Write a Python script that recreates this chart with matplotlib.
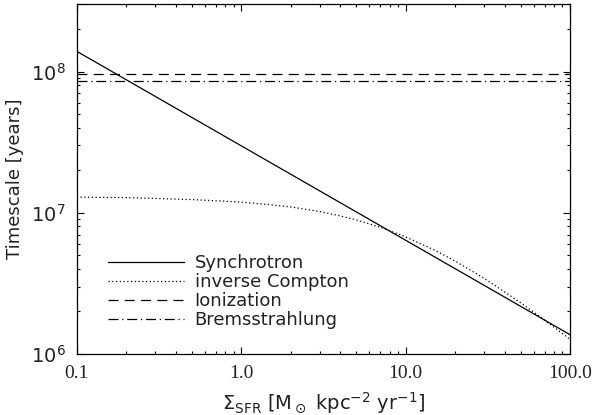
import numpy as np
import matplotlib.pyplot as plt

# values
sfr_syn = [0.1, 100.0]
t_syn = [1.39e8, 1.37e6]

sfr_ic = [0.1, 0.2, 0.5, 1.0, 1.5, 2.0, 3.0, 4.0, 5.0, 7.0, 10.0, 15.0, 20.0, 30.0, 50.0, 70.0, 100.0]
t_ic = [1.29e7, 1.28e7, 1.24e7, 1.19e7, 1.14e7, 1.10e7, 1.02e7, 9.5e6, 8.9e6, 7.9e6,
        6.75e6, 5.44e6, 4.55e6, 3.44e6, 2.31e6, 1.74e6, 1.27e6]

sfr_flat = [0.1, 100.0]
t_ion = [9.6e7, 9.6e7]
t_brems = [8.6e7, 8.6e7]

labels = ['Synchrotron', 'inverse Compton', 'Ionization', 'Bremsstrahlung']
xticks = [0.1, 1.0, 10.0, 100.0]
xticklabels = ['0.1', '1.0', '10.0', '100.0']

txt = '#222222'
fig = plt.figure(figsize=(6, 4.15), dpi=100)
ax = fig.add_axes([0.128, 0.147, 0.822, 0.843])

lw = 0.9
ax.plot(sfr_syn, t_syn, color='k', lw=lw, ls='-', label=labels[0])
ax.plot(sfr_ic, t_ic, color='k', lw=lw, ls=(0, (1, 2)), label=labels[1])
ax.plot(sfr_flat, t_ion, color='k', lw=lw, ls=(0, (8, 5)), label=labels[2])
ax.plot(sfr_flat, t_brems, color='k', lw=lw, ls=(0, (8, 3, 1, 3)), label=labels[3])

ax.set_xscale('log')
ax.set_yscale('log')
ax.set_xlim(0.1, 100)
ax.set_ylim(1e6, 3e8)

ax.set_xticks(xticks)
ax.set_xticklabels(xticklabels, family='Liberation Serif', fontsize=14, color=txt)
ax.set_yticks([1e6, 1e7, 1e8])
ax.set_yticklabels([r'$10^6$', r'$10^7$', r'$10^8$'], fontsize=14, color=txt)
ax.tick_params(which='both', direction='in', top=True, right=True, width=0.8, colors='k', labelcolor=txt)
ax.tick_params(which='major', length=5, pad=8)
ax.tick_params(which='minor', length=2.5)
for s in ax.spines.values():
    s.set_linewidth(0.9)

ax.set_xlabel(r'$\Sigma_{\rm SFR}$ [M$_\odot$ kpc$^{-2}$ yr$^{-1}$]', fontsize=14, color=txt, labelpad=6)
ax.set_ylabel('Timescale [years]', fontsize=13, color=txt, labelpad=5)

ax.legend(loc='lower left', bbox_to_anchor=(0.03, 0.025), frameon=False, fontsize=13,
          handlelength=4.2, handletextpad=0.6, labelspacing=0.05, labelcolor=txt)

fig.savefig('out.png', dpi=100)
